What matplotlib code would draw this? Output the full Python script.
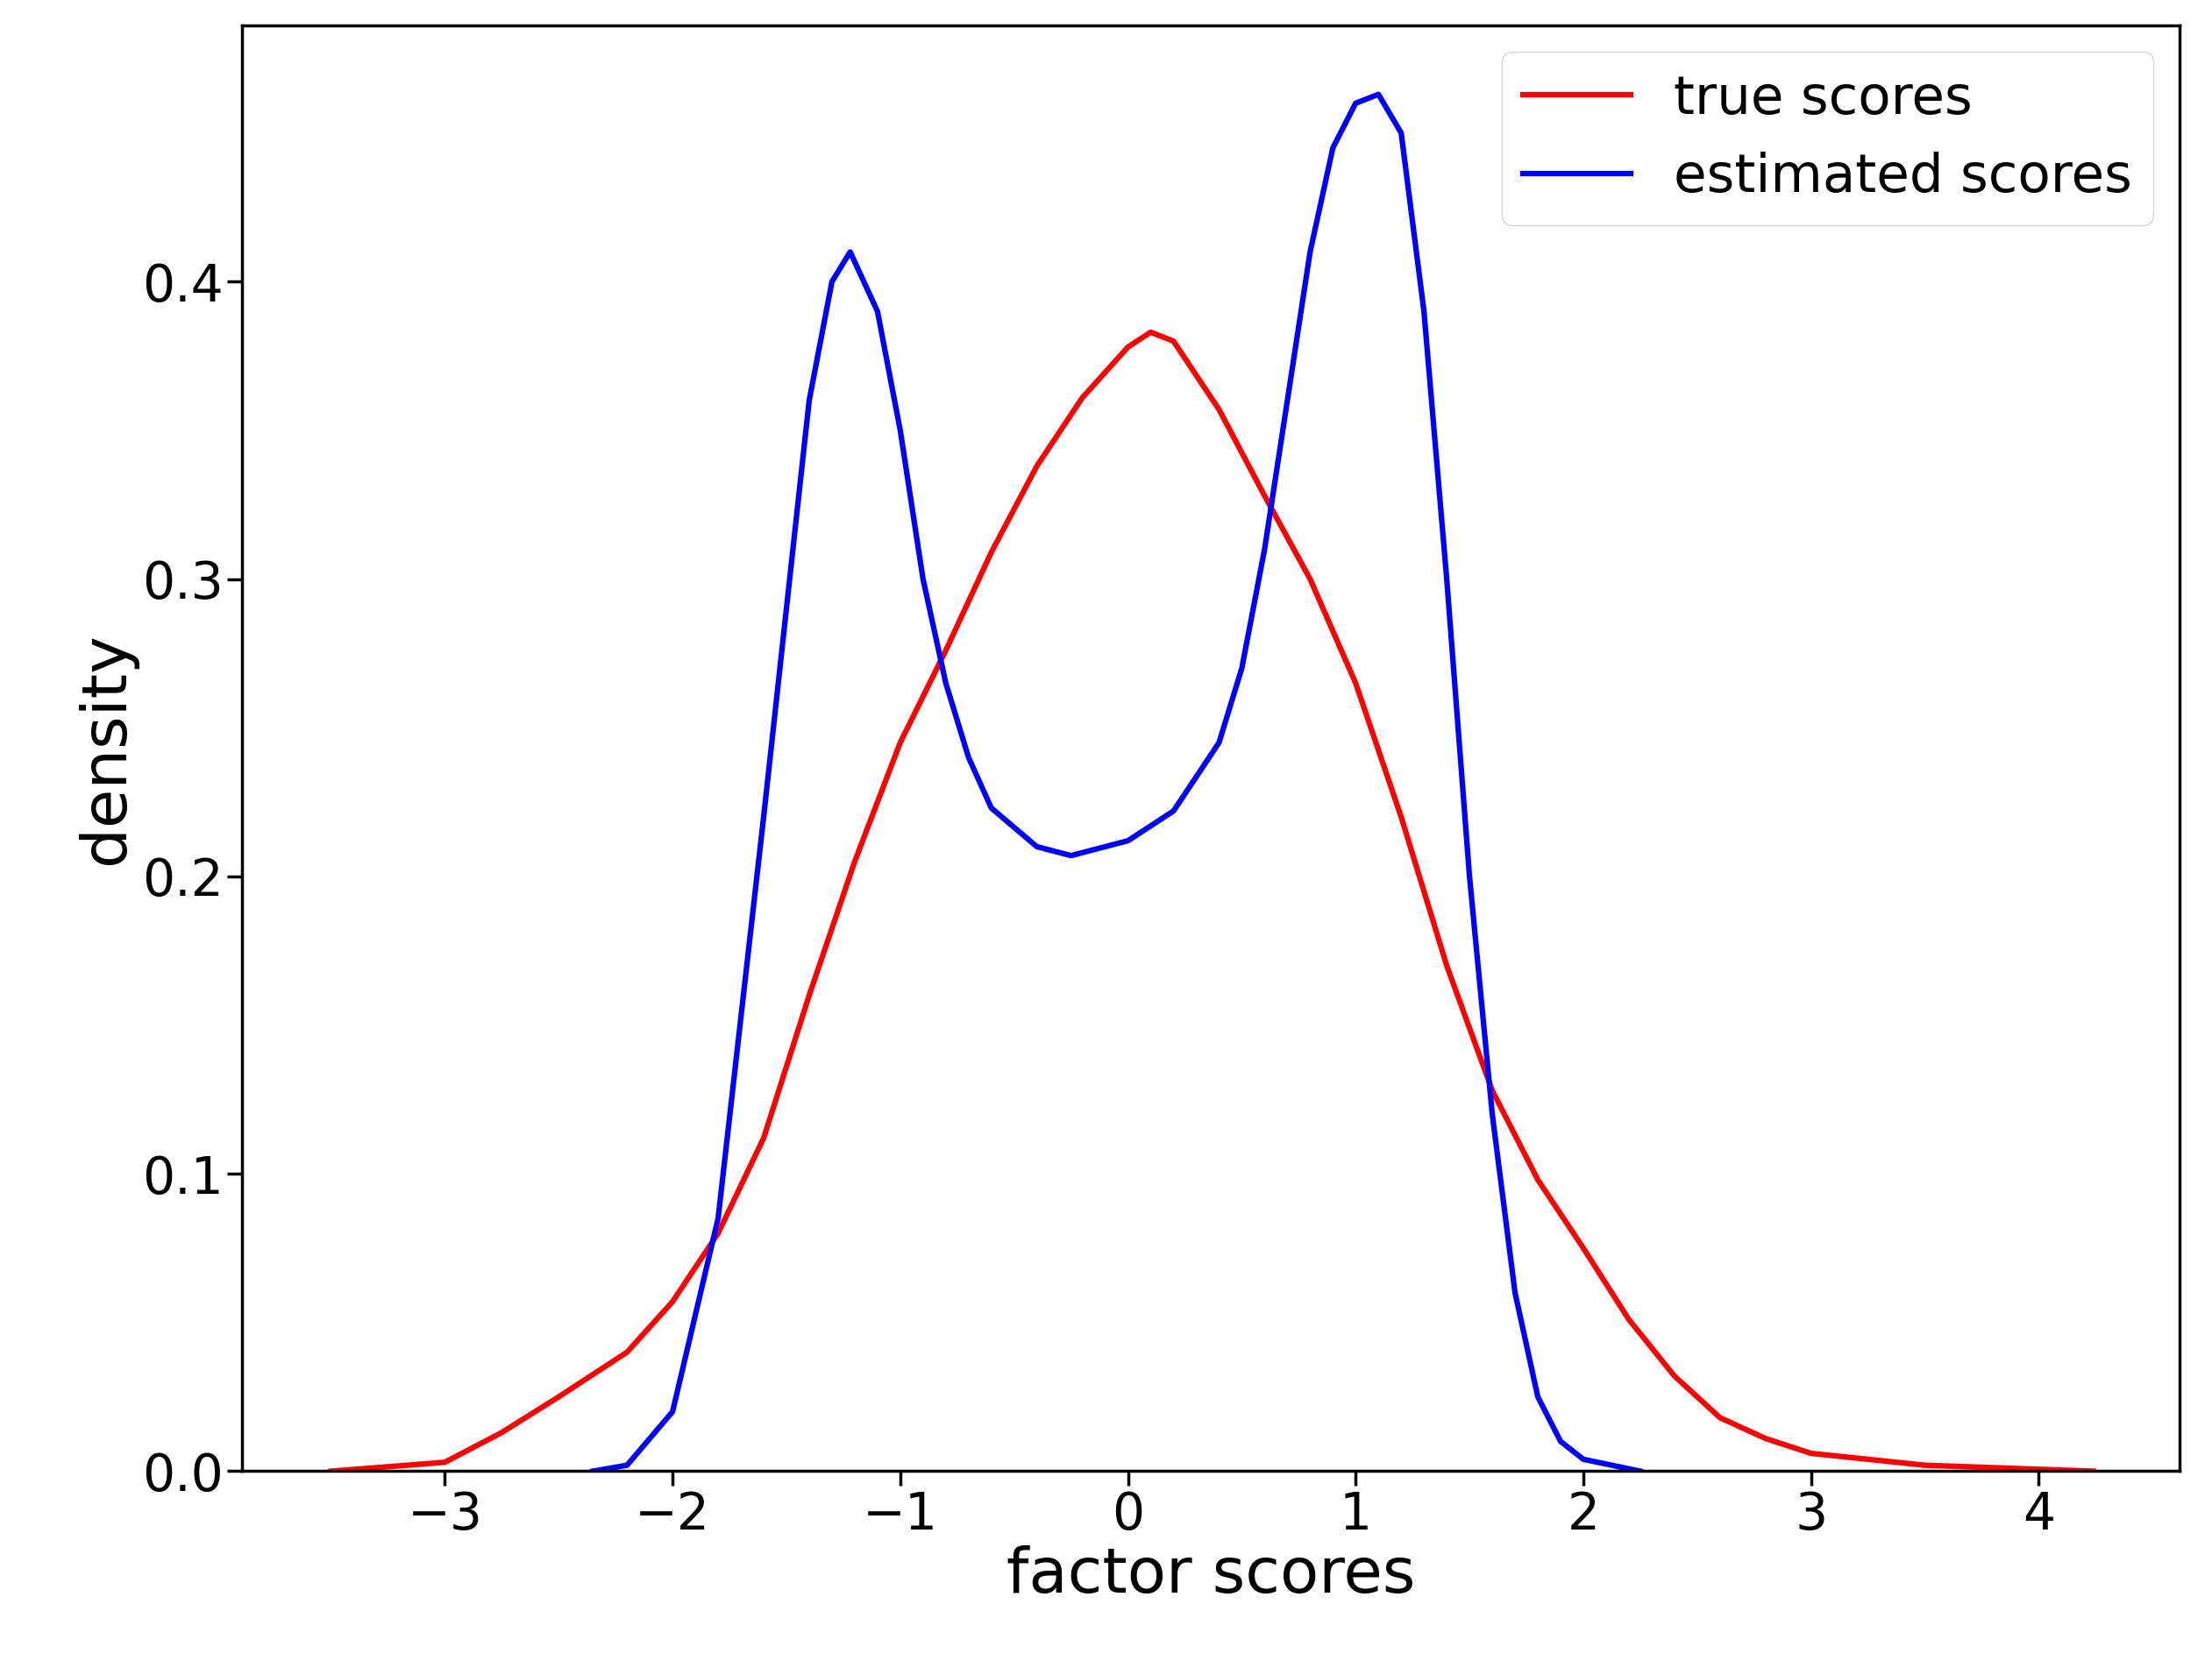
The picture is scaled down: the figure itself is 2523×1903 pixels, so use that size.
import matplotlib
matplotlib.use("Agg")
import matplotlib.pyplot as plt

true_x = [-3.5,-3.0,-2.75,-2.5,-2.2,-2.0,-1.8,-1.6,-1.4,-1.2,-1.0,-0.8,-0.6,-0.4,-0.2,0.0,0.1,0.2,0.4,0.6,0.8,1.0,1.2,1.4,1.6,1.8,2.0,2.2,2.4,2.6,2.8,3.0,3.5,4.24]
true_y = [0.0,0.003,0.013,0.025,0.040,0.057,0.080,0.112,0.160,0.205,0.245,0.276,0.309,0.338,0.361,0.378,0.383,0.380,0.357,0.328,0.300,0.265,0.220,0.170,0.128,0.098,0.075,0.051,0.032,0.018,0.011,0.006,0.002,0.0]
est_x = [-2.35,-2.2,-2.0,-1.8,-1.6,-1.5,-1.4,-1.3,-1.22,-1.1,-1.0,-0.9,-0.8,-0.7,-0.6,-0.4,-0.25,0.0,0.2,0.4,0.5,0.6,0.7,0.8,0.9,1.0,1.1,1.2,1.3,1.4,1.5,1.6,1.7,1.8,1.9,2.0,2.25]
est_y = [0.0,0.002,0.02,0.085,0.22,0.29,0.36,0.40,0.41,0.39,0.35,0.30,0.265,0.24,0.223,0.21,0.207,0.212,0.222,0.245,0.27,0.31,0.36,0.41,0.445,0.46,0.463,0.45,0.39,0.30,0.20,0.12,0.06,0.025,0.01,0.004,0.0]

fig = plt.figure(figsize=(25.23, 19.03), dpi=100)
ax = fig.add_axes([0.1095, 0.118, 0.876, 0.867])
ax.plot(true_x, true_y, color="red", lw=4.5, label="true scores")
ax.plot(est_x, est_y, color="blue", lw=4.5, label="estimated scores")
ax.set_xlim(-3.89, 4.62)
ax.set_ylim(0, 0.4863)
ax.set_yticks([0.0, 0.1, 0.2, 0.3, 0.4])
ax.tick_params(labelsize=42, width=2.5, length=12)
for s in ax.spines.values():
    s.set_linewidth(2.5)
ax.set_xlabel("factor scores", fontsize=52)
ax.set_ylabel("density", fontsize=52)
ax.legend(fontsize=44, loc="upper right", handlelength=2)
fig.savefig("out.png")
